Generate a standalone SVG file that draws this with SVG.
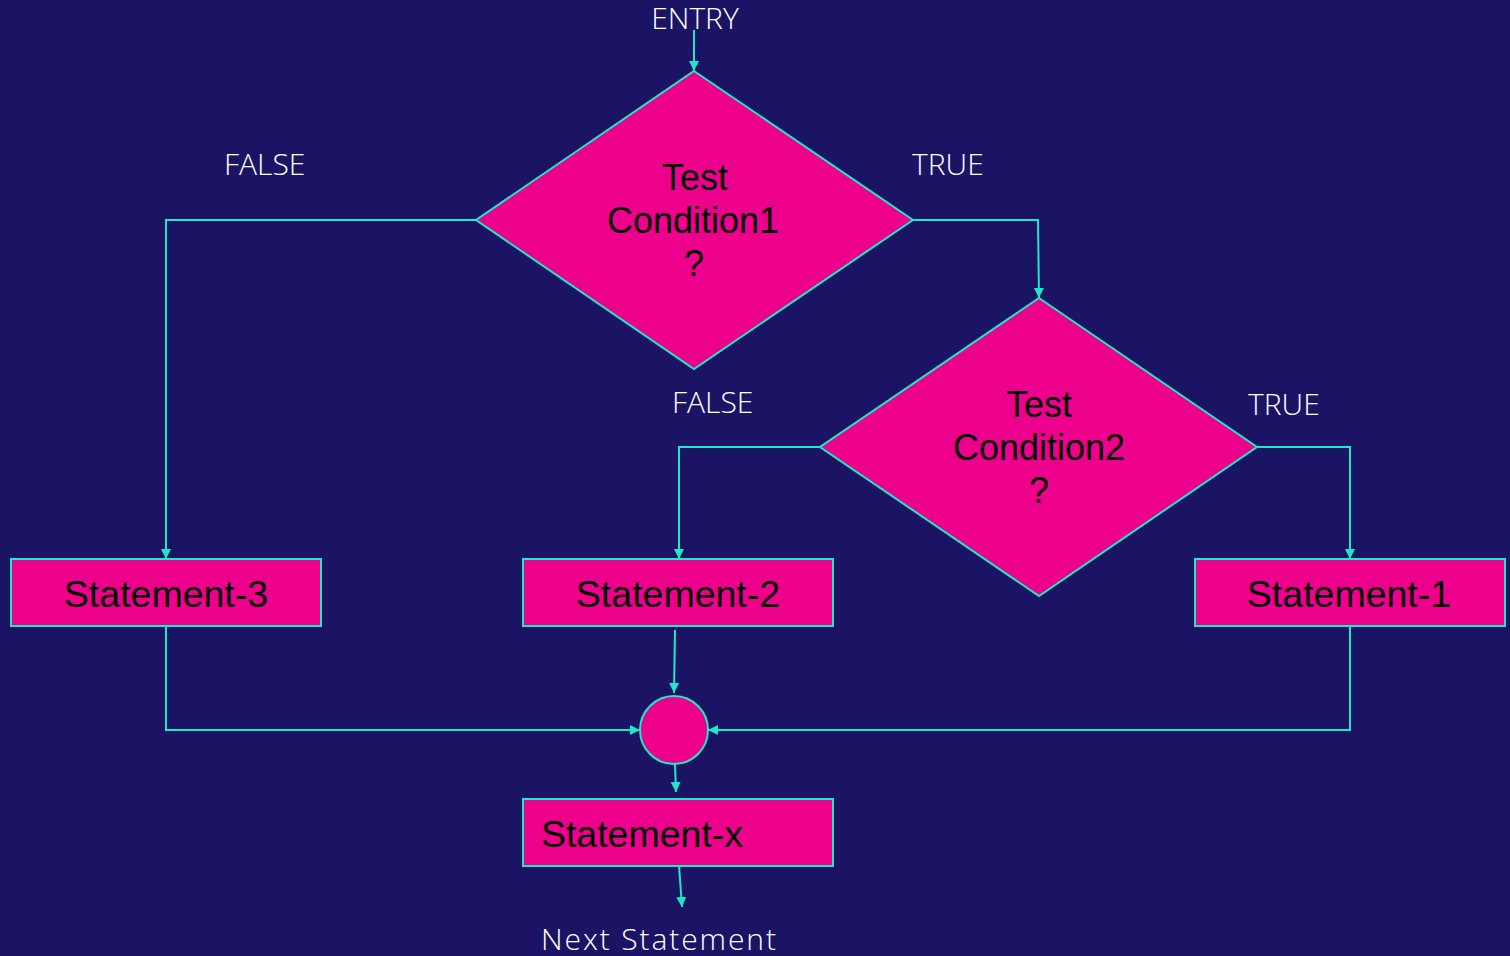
<svg xmlns="http://www.w3.org/2000/svg" width="1510" height="956" viewBox="0 0 1510 956">
  <style>
    .shape { fill: #ec008c; stroke: #1de9c8; stroke-width: 2; }
    .node-text { font-family: "Liberation Sans", Arial, sans-serif; font-size: 36px; fill: #000; text-anchor: middle; }
    .stmt { font-size: 37.5px; }
    .label { font-family: "Open Sans", "Noto Sans", sans-serif; font-size: 30px; font-weight: 300; fill: #ffffff; }
    .conn { fill: none; stroke: #1de9c8; stroke-width: 2; marker-end: url(#arrow); }
  </style>
  <defs>
    <marker id="arrow" viewBox="0 0 10 12" refX="10" refY="6" markerWidth="10" markerHeight="12" markerUnits="userSpaceOnUse" orient="auto">
      <path d="M0,1 L10,6 L0,11 Z" fill="#1de9c8"/>
    </marker>
  </defs>
  <rect x="0" y="0" width="1510" height="956" fill="#1b1464"/>

  <!-- Branch labels -->
  <g id="labels">
    <text class="label" x="695" y="29" text-anchor="middle">ENTRY</text>
    <text class="label" x="224" y="175">FALSE</text>
    <text class="label" x="912" y="175">TRUE</text>
    <text class="label" x="672" y="413">FALSE</text>
    <text class="label" x="1248" y="415">TRUE</text>
    <text class="label" x="541" y="950" textLength="235">Next Statement</text>
  </g>

  <!-- Connectors -->
  <g id="connectors">
    <path class="conn" d="M694,30 L694,71"/>
    <path class="conn" d="M476,220 L166,220 L166,559"/>
    <path class="conn" d="M913,220 L1038,220 L1039,298"/>
    <path class="conn" d="M820,447 L679,447 L679,559"/>
    <path class="conn" d="M1257,447 L1350,447 L1350,559"/>
    <path class="conn" d="M166,626 L166,730 L640,730"/>
    <path class="conn" d="M675,630 L674,693"/>
    <path class="conn" d="M1350,626 L1350,730 L708,730"/>
    <path class="conn" d="M675,764 L676,792"/>
    <path class="conn" d="M679,866 L682,907"/>
  </g>

  <g id="decision1">
    <polygon class="shape" points="694,71 913,220 694,369 476,220"/>
    <text class="node-text" x="695" y="190">Test</text>
    <text class="node-text" x="693" y="233">Condition1</text>
    <text class="node-text" x="694" y="276">?</text>
  </g>

  <g id="decision2">
    <polygon class="shape" points="1039,298 1257,447 1039,596 820,447"/>
    <text class="node-text" x="1039" y="417">Test</text>
    <text class="node-text" x="1039" y="460">Condition2</text>
    <text class="node-text" x="1039" y="503">?</text>
  </g>

  <g id="statement3">
    <rect class="shape" x="11" y="559" width="310" height="67"/>
    <text class="node-text stmt" x="166" y="607">Statement-3</text>
  </g>

  <g id="statement2">
    <rect class="shape" x="523" y="559" width="310" height="67"/>
    <text class="node-text stmt" x="678" y="607">Statement-2</text>
  </g>

  <g id="statement1">
    <rect class="shape" x="1195" y="559" width="310" height="67"/>
    <text class="node-text stmt" x="1349" y="607">Statement-1</text>
  </g>

  <g id="junction">
    <circle class="shape" cx="674" cy="730" r="34"/>
  </g>

  <g id="statementx">
    <rect class="shape" x="523" y="799" width="310" height="67"/>
    <text class="node-text stmt" x="642" y="847">Statement-x</text>
  </g>
</svg>
